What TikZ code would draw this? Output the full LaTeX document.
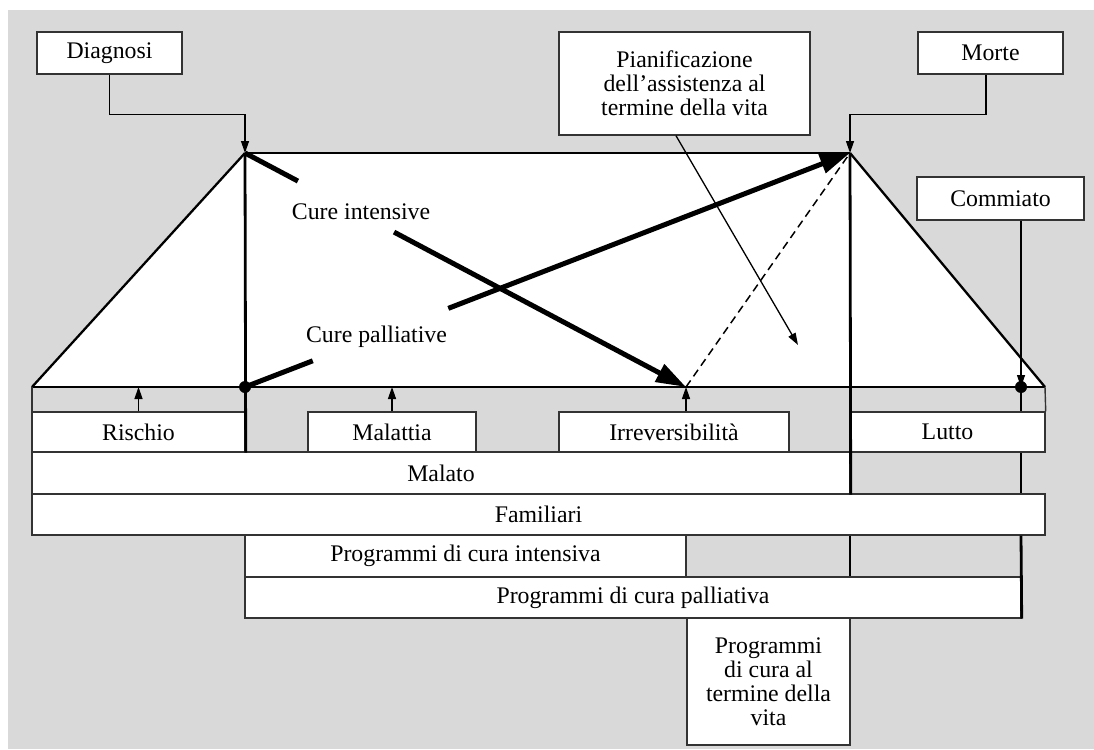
\documentclass[tikz,border=0pt]{standalone}
\usepackage{fontspec}
\setmainfont{Liberation Serif}
\usetikzlibrary{arrows.meta,calc}
\begin{document}
\begin{tikzpicture}[x=1pt,y=-1pt,
  txt/.style={font=\fontsize{23.8}{24}\selectfont},
  box/.style={txt, draw=black!80, line width=1.4pt, fill=white, inner sep=0pt, align=center},
  lbl/.style={txt, inner sep=0pt},
  thinline/.style={draw=black!80, line width=1.4pt},
  vline/.style={line width=2.8pt},
  slant/.style={line width=2.3pt},
  smallarrow/.style={-{Triangle[length=12pt,width=8pt]}, line width=1.3pt},
  bigline/.style={line width=5pt},
  bigarrow/.style={-{Triangle[length=30pt,width=19pt]}, line width=5pt},
  dashline/.style={line width=1.5pt, dash pattern=on 8pt off 5pt}
]
\useasboundingbox (0,0) rectangle (1094,749);
\fill[white] (0,0) rectangle (1094,749);
\fill[gray!30] (8,10) rectangle (1094,749);

% key points
\coordinate (TL) at (245,153);
\coordinate (TR) at (850,153);
\coordinate (BL) at (32,387);
\coordinate (BR) at (1045,387);
\coordinate (DL) at (245,387);
\coordinate (IR) at (686,387);
\coordinate (DR) at (1021,387);
\coordinate (PE) at (798,345);

% trapezoid
\fill[white] (BL) -- (TL) -- (TR) -- (BR) -- cycle;
\draw[slant] (BL) -- (TL);
\draw[slant] (TR) -- (BR);
\draw[vline] (TL) -- (TR);
\draw[vline] (BL) -- (BR);

% top boxes
\node[box, minimum width=145pt, minimum height=42pt] (diag) at (109.5,53) {Diagnosi};
\node[box, minimum width=251pt, minimum height=103pt] (pian) at (684.5,83.5) {Pianificazione\\dell’assistenza al\\termine della vita};
\node[box, minimum width=145pt, minimum height=42pt] (morte) at (990.5,53) {Morte};
\node[box, minimum width=167pt, minimum height=43pt] (comm) at (1000.5,198.5) {Commiato};

% row boxes
\node[box, minimum width=213pt, minimum height=40pt] (rischio) at (138.5,432) {Rischio};
\node[box, minimum width=168pt, minimum height=40pt] (malattia) at (392,432) {Malattia};
\node[box, minimum width=230pt, minimum height=40pt] (irr) at (674,432) {Irreversibilità};
\node[box, minimum width=195pt, minimum height=40pt] (lutto) at (947.5,432) {Lutto};
\node[box, minimum width=818pt, minimum height=42pt] (malato) at (441,473) {Malato};
\node[box, minimum width=1013pt, minimum height=41pt] (famil) at (538.5,514.5) {Familiari};
\node[box, minimum width=441pt, minimum height=42pt] (intens) at (465.5,556) {Programmi di cura intensiva};
\node[box, minimum width=776pt, minimum height=41pt] (pall) at (633,597.5) {Programmi di cura palliativa};
\node[box, minimum width=163pt, minimum height=127pt] (termine) at (768.5,681.5) {Programmi\\di cura al\\termine della\\vita};

% strip edges
\draw[thinline] (BL) -- (BL |- rischio.north);
\draw[thinline] (BR) -- (lutto.north east);

% vertical lines
\draw[vline] (TL) -- (rischio.south east);
\draw[vline] (TR) -- (malato.south east);
\draw[vline] (TR |- famil.south) -- (TR |- pall.north);
\draw[vline] (DR) -- (DR |- lutto.north);
\draw[vline] (DR |- lutto.south) -- (DR |- famil.north);
\draw[vline] (DR |- famil.south) -- (pall.south east);

% small arrows
\draw[smallarrow] (diag.south) -- ++(0,40) -| (TL);
\draw[smallarrow] ([xshift=-4.5pt]morte.south) -- ++(0,40) -| (TR);
\draw[smallarrow] ([xshift=-8.5pt]pian.south) -- (PE);
\draw[smallarrow] (rischio.north) -- (rischio.north |- BL);
\draw[smallarrow] (malattia.north) -- (malattia.north |- BL);
\draw[smallarrow] (IR |- irr.north) -- (IR);
\draw[smallarrow] (DR |- comm.south) -- (DR);

% dashed line
\draw[dashline] (IR) -- (TR);

% big arrows
\draw[bigline] (TL) -- ($(TL)!0.12!(IR)$);
\draw[bigarrow] ($(TL)!0.338!(IR)$) -- (IR);
\draw[bigline] (DL) -- ($(DL)!0.112!(TR)$);
\draw[bigarrow] ($(DL)!0.336!(TR)$) -- (TR);

% dots
\fill (DL) circle (6pt);
\fill (DR) circle (6pt);

% labels
\node[lbl, anchor=base] (ci) at (361,219) {Cure intensive};
\node[lbl, anchor=base] (cp) at (376.5,342) {Cure palliative};
\end{tikzpicture}
\end{document}
